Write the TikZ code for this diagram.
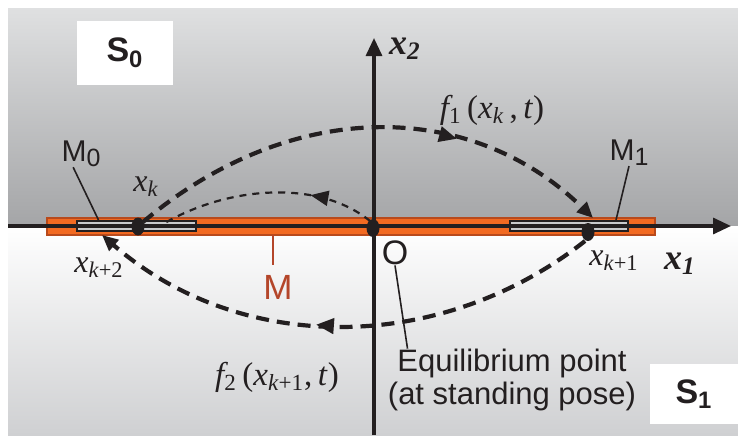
\documentclass[tikz,border=0pt]{standalone}
\usepackage{fontspec}
\setmainfont{Liberation Sans}
\newfontfamily\timesfont{Liberation Serif}
\usepackage{tikz}
\usetikzlibrary{positioning, arrows.meta, decorations.markings, shapes.geometric}
\usepackage{xcolor}

\definecolor{ink}{HTML}{231F20}
\definecolor{barorange}{HTML}{F26A21}
\definecolor{baredge}{HTML}{B84A1C}
\definecolor{stripgray}{HTML}{C9CACC}
\definecolor{mbrown}{HTML}{B4462A}
\definecolor{skytop}{HTML}{DFE0E1}
\definecolor{skybottom}{HTML}{A4A5A7}
\definecolor{floorbottom}{HTML}{CFD0D2}

\newcommand{\lowsub}[1]{\raisebox{-0.3ex}{\fontsize{12.5}{12.5}\selectfont #1}}

\begin{document}
\begin{tikzpicture}[x=0.5pt, y=-0.5pt, every node/.style={inner sep=0pt, text=ink},
  axis/.style={draw=ink, line width=1.6pt, -{Triangle[length=9pt,width=8pt]}},
  dot/.style={ellipse, fill=ink, minimum width=6.5pt, minimum height=9pt},
  strip/.style={rectangle, draw=ink, line width=1pt, fill=stripgray, minimum height=5pt},
  zonebox/.style={rectangle, fill=white, font=\bfseries\fontsize{17}{17}\selectfont},
  leader/.style={draw=ink, line width=0.8pt},
  jump/.style={draw=ink, line width=2.1pt, dash pattern=on 6.5pt off 4pt},
  hop/.style={draw=ink, line width=1.1pt, dash pattern=on 3.5pt off 3pt},
  midarrow/.style={postaction={decorate, decoration={markings,
      mark=at position #1 with {\arrow{Triangle[length=9pt,width=7.5pt]}}}}},
  mathlbl/.style={font=\timesfont\itshape\fontsize{16}{16}\selectfont},
  funlbl/.style={font=\timesfont\itshape\fontsize{16.5}{16.5}\selectfont},
  axislbl/.style={font=\timesfont\bfseries\itshape\fontsize{18}{18}\selectfont}]

\useasboundingbox (0,0) rectangle (738,435);

% Regions S0 and S1
\shade[top color=skytop, bottom color=skybottom] (8,8) rectangle (738,226);
\shade[top color=white, bottom color=floorbottom] (8,226) rectangle (738,435);

% Manifold M and the strips M0, M1
\node[rectangle, draw=baredge, line width=0.8pt, fill=barorange, minimum width=304pt, minimum height=8.5pt] (bar) at (351,226.5) {};
\node[strip, minimum width=59.5pt] (M0strip) at (136.5,226) {};
\node[strip, minimum width=59pt] (M1strip) at (569,226) {};

% Axes
\coordinate (x1start) at (8,226);
\coordinate (x1end) at (731,226);
\coordinate (x2start) at (374,435);
\coordinate (x2end) at (374,38);
\draw[axis] (x1start) -- (x1end);
\draw[axis] (x2start) -- (x2end);

% States
\node[dot] (xk) at (138,226.5) {};
\node[dot] (O) at (373,228) {};
\node[dot] (xk1) at (588,232) {};

% Zone boxes
\node[zonebox, minimum width=48pt, minimum height=32pt] (S0) at (125,53) {\raisebox{3pt}{S\textsubscript{0}}};
\node[zonebox, minimum width=44pt, minimum height=30pt] (S1) at (694,394) {S\textsubscript{1}};

% Labels
\node[axislbl] (x2lbl) at (405,49) {x\textsubscript{2}};
\node[axislbl] (x1lbl) at (680,264) {x\textsubscript{1}};
\node[mathlbl] (xklbl) at (146,187) {x\textsubscript{k}};
\node[mathlbl] (xk2lbl) at (99,268) {x\textsubscript{k\textup{+2}}};
\node[mathlbl] (xk1lbl) at (614,261) {x\textsubscript{k\textup{+1}}};
\node[funlbl] (f1lbl) at (492,110) {f\textsubscript{\textup{1}}\,\textup{(}x\textsubscript{k}\,\textup{,}\,t\textup{)}};
\node[funlbl] (f2lbl) at (277,377) {f\textsubscript{\textup{2}}\,\textup{(}x\textsubscript{k\textup{+1}}\textup{,}\,t\textup{)}};
\node[font=\fontsize{15}{15}\selectfont] (M0lbl) at (81,154) {M\lowsub{0}};
\node[font=\fontsize{15}{15}\selectfont] (M1lbl) at (629,153) {M\lowsub{1}};
\node[font=\fontsize{17.5}{17.5}\selectfont, text=mbrown] (Mlbl) at (278,287) {M};
\node[font=\fontsize{17}{17}\selectfont] (Olbl) at (395,253) {O};
\node[align=center, font=\fontsize{15.5}{16.5}\selectfont] (eqtext) at (512,380) {Equilibrium point\\(at standing pose)};

% Leader lines
\coordinate (Mtick) at (273,235);
\draw[leader] ([xshift=6pt]M0lbl.south west) -- ([xshift=-19pt]M0strip.north);
\draw[leader] (M1lbl.south) -- ([xshift=23.5pt]M1strip.north);
\draw[leader, draw=mbrown] (Mtick) -- ++(0,30);
\draw[leader] (Olbl.south) -- ([xshift=10pt]eqtext.north west);

% Transitions
\coordinate (f1start) at (143,222);
\coordinate (f1land) at (593,218);
\coordinate (hopstart) at (370,221);
\coordinate (hopland) at (163,224);
\coordinate (f2start) at (585,241);
\coordinate (f2land) at (102,235);
\draw[jump, midarrow=0.68, -{Triangle[length=8pt,width=7pt]}] (f1start) .. controls (290,98) and (470,98) .. (f1land);
\draw[hop, midarrow=0.3] (hopstart) .. controls (320,180) and (230,185) .. (hopland);
\draw[jump, midarrow=0.55, -{Triangle[length=8pt,width=7pt]}] (f2start) .. controls (440,355) and (240,355) .. (f2land);

\end{tikzpicture}
\end{document}
